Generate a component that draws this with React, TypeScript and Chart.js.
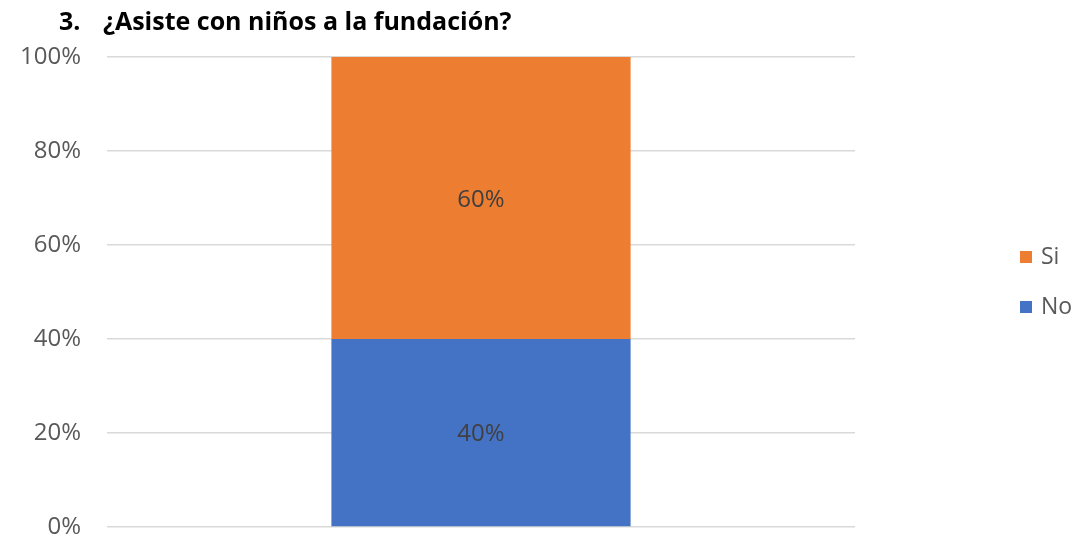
import React, { useEffect, useRef } from "react";
import { Chart, registerables } from "chart.js";

Chart.register(...registerables);

const categories = [""];
const seriesNames = ["No", "Si"];
const noValues = [40];
const siValues = [60];
const yTicks = [0, 20, 40, 60, 80, 100];
const titleText = "3.";
const titleQuestion = "¿Asiste con niños a la fundación?";

const FONT = "'Open Sans', Lato, sans-serif";

const titlePlugin = {
  id: "customTitle",
  afterDraw(chart: any) {
    const ctx = chart.ctx;
    ctx.save();
    ctx.fillStyle = "#000000";
    ctx.font = `bold 25px ${FONT}`;
    ctx.textBaseline = "alphabetic";
    ctx.textAlign = "left";
    ctx.fillText(titleText, 59, 30);
    ctx.fillText(titleQuestion, 103, 30);
    ctx.restore();
  },
};

const valueLabelPlugin = {
  id: "valueLabels",
  afterDatasetsDraw(chart: any) {
    const ctx = chart.ctx;
    ctx.save();
    ctx.fillStyle = "#404040";
    ctx.font = `24px ${FONT}`;
    ctx.textAlign = "center";
    ctx.textBaseline = "middle";
    chart.data.datasets.forEach((ds: any, di: number) => {
      const meta = chart.getDatasetMeta(di);
      meta.data.forEach((bar: any, i: number) => {
        const v = ds.data[i];
        const cy = (bar.y + bar.base) / 2 + 2;
        ctx.fillText(`${v}%`, bar.x, cy);
      });
    });
    ctx.restore();
  },
};

const legendPlugin = {
  id: "customLegend",
  afterDraw(chart: any) {
    const ctx = chart.ctx;
    ctx.save();
    ctx.font = `23px ${FONT}`;
    ctx.textBaseline = "middle";
    ctx.textAlign = "left";
    const items = [...chart.data.datasets].reverse();
    const startY = 257;
    const gap = 50;
    items.forEach((ds: any, i: number) => {
      const y = startY + i * gap;
      ctx.fillStyle = ds.backgroundColor;
      ctx.fillRect(1020, y - 6, 12, 12);
      ctx.fillStyle = "#595959";
      ctx.fillText(ds.label, 1041, y);
    });
    ctx.restore();
  },
};

export default function App() {
  const ref = useRef<HTMLCanvasElement | null>(null);
  useEffect(() => {
    if (!ref.current) return;
    const chart = new Chart(ref.current, {
      type: "bar",
      data: {
        labels: categories,
        datasets: [
          {
            label: seriesNames[0],
            data: noValues,
            backgroundColor: "#4472C4",
            categoryPercentage: 1,
            barPercentage: 0.4,
          },
          {
            label: seriesNames[1],
            data: siValues,
            backgroundColor: "#ED7D31",
            categoryPercentage: 1,
            barPercentage: 0.4,
          },
        ],
      },
      options: {
        animation: false,
        responsive: false,
        maintainAspectRatio: false,
        layout: { padding: { top: 57, right: 223, bottom: 13, left: 0 } },
        plugins: {
          legend: { display: false },
          title: { display: false },
          tooltip: { enabled: false },
        },
        scales: {
          x: {
            stacked: true,
            display: false,
          },
          y: {
            stacked: true,
            min: 0,
            max: 100,
            afterFit(scale: any) {
              scale.width = 107;
              scale.paddingTop = 0;
              scale.paddingBottom = 0;
            },
            afterBuildTicks(scale: any) {
              scale.ticks = yTicks.map((v) => ({ value: v }));
            },
            border: { display: false },
            grid: { color: "#d9d9d9", lineWidth: 1.5, drawTicks: false },
            ticks: {
              padding: 26,
              color: "#595959",
              font: { family: FONT, size: 24 },
              callback: (v: any) => `${v}%`,
            },
          },
        },
      },
      plugins: [titlePlugin, valueLabelPlugin, legendPlugin],
    });
    return () => chart.destroy();
  }, []);
  return (
    <div style={{ position: "absolute", left: 0, top: 0, width: 1078, height: 540, background: "#fff" }}>
      <canvas ref={ref} width={1078} height={540} style={{ width: 1078, height: 540 }} />
    </div>
  );
}
